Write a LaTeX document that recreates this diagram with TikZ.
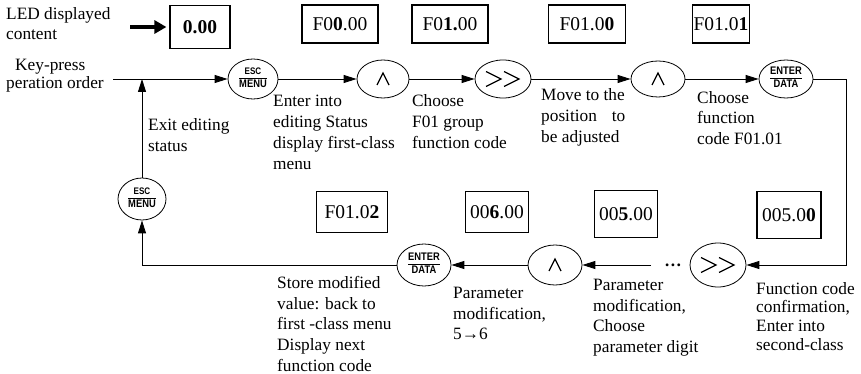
\documentclass[tikz,border=0pt]{standalone}
\usepackage{fontspec}
\usepackage{graphicx}
\setmainfont{Liberation Serif}
\setsansfont{Liberation Sans}
\usetikzlibrary{shapes.geometric,arrows.meta}
\newcommand\keytxt[3]{\scalebox{0.85}[1]{\sffamily\bfseries\setlength\tabcolsep{0pt}\setlength\arrayrulewidth{0.9pt}\renewcommand\arraystretch{0.95}\begin{tabular}{c}\fontsize{#3}{10}\selectfont #1\\\hline\fontsize{11}{11}\selectfont\rule{0pt}{9pt}#2\end{tabular}}}
\newcommand\caretmark[1]{\draw[line width=1.2pt] ([shift={(-6,6)}]#1.center) -- ([shift={(0,-6)}]#1.center) -- ([shift={(6,6)}]#1.center);}
\newcommand\ffwdmark[1]{\draw[line width=1.2pt] ([shift={(-17,-7.5)}]#1.center) -- ([shift={(-2,0)}]#1.center) -- ([shift={(-17,7.5)}]#1.center);
  \draw[line width=1.2pt] ([shift={(1,-7.5)}]#1.center) -- ([shift={(16,0)}]#1.center) -- ([shift={(1,7.5)}]#1.center);}
\begin{document}
\begin{tikzpicture}[x=1pt,y=-1pt,
  ledbox/.style={draw,line width=1.2pt,inner sep=0pt,font=\fontsize{19.5}{20}\selectfont},
  keyell/.style={draw,ellipse,line width=0.8pt,inner sep=0pt},
  arr/.style={line width=0.9pt,-{Triangle[length=13pt,width=8pt]}},
  lbl/.style={anchor=north west,inner sep=0pt,align=left,font=\fontsize{17.3}{21}\selectfont}
]
\useasboundingbox (0,0) rectangle (861,374);

% LED display boxes
\node[ledbox,minimum width=60pt,minimum height=43pt] (b0) at (200,27) {\textbf{0.00}};
\node[ledbox,minimum width=76pt,minimum height=38pt] (b1) at (340,24) {F0\textbf{0}.00};
\node[ledbox,minimum width=76pt,minimum height=38pt] (b2) at (450,24) {F0\textbf{1.}00};
\node[ledbox,minimum width=77pt,minimum height=38pt] (b3) at (587,24) {F01.0\textbf{0}};
\node[ledbox,minimum width=57pt,minimum height=38pt] (b4) at (721,24) {F01.0\textbf{1}};
\node[ledbox,minimum width=71pt,minimum height=41pt] (b5) at (352,212) {F01.0\textbf{2}};
\node[ledbox,minimum width=63pt,minimum height=41pt] (b6) at (497,212) {00\textbf{6}.00};
\node[ledbox,minimum width=63pt,minimum height=47pt] (b7) at (626,214) {00\textbf{5}.00};
\node[ledbox,minimum width=64pt,minimum height=47pt] (b8) at (789,215) {005.0\textbf{0}};

% keys
\node[keyell,minimum width=50pt,minimum height=40pt] (e1) at (253,79) {\keytxt{ESC}{MENU}{9.5}};
\node[keyell,minimum width=52pt,minimum height=38pt] (u1) at (383,79) {};
\node[keyell,minimum width=56pt,minimum height=38pt] (f1) at (503,79) {};
\node[keyell,minimum width=54pt,minimum height=36pt] (u2) at (658,79) {};
\node[keyell,minimum width=54pt,minimum height=38pt] (n1) at (786,79) {\keytxt{ENTER}{DATA}{11}};
\node[keyell,minimum width=48pt,minimum height=42pt] (e2) at (142,199) {\keytxt{ESC}{MENU}{9.5}};
\node[keyell,minimum width=54pt,minimum height=42pt] (n2) at (424,265) {\keytxt{ENTER}{DATA}{11}};
\node[keyell,minimum width=54pt,minimum height=40pt] (u3) at (555,265) {};
\node[keyell,minimum width=56pt,minimum height=44pt] (f2) at (718,265) {};
\caretmark{u1}
\caretmark{u2}
\caretmark{u3}
\ffwdmark{f1}
\ffwdmark{f2}
\node[inner xsep=13pt,inner ysep=0pt,font=\fontsize{17.3}{18}\selectfont] (dots) at (673,265) {\textbf{\dots}};

% coordinates
\coordinate (kp) at (113,79);
\coordinate (jn) at (142,79);
\coordinate (rc) at (846,265);
\coordinate (ls) at (130,27);

% connectors
\draw[line width=4pt,-{Triangle[length=12pt,width=13pt]},shorten >=3pt] (ls) -- (b0.west);
\draw[arr] (kp) -- (e1);
\draw[arr] (e1) -- (u1);
\draw[arr] (u1) -- (f1);
\draw[arr] (f1) -- (u2);
\draw[arr] (u2) -- (n1);
\draw[arr] (n1.east) -| (rc) -- (f2.east);
\draw[arr] (dots.west) -- (u3.east);
\draw[arr] (u3) -- (n2);
\draw[arr] (n2.west) -| (e2.south);
\draw[arr] (e2.north) -- (jn);

% labels
\node[lbl,font=\fontsize{17.3}{20}\selectfont] (tled) at (6,7) {LED displayed\\content};
\node[lbl,font=\fontsize{17.3}{18}\selectfont] (tkey) at (6,59) {\hspace*{9pt}Key-press\\peration order};
\node[lbl] (texit) at (148,118) {Exit editing\\status};
\node[lbl] (tenter) at (273,95) {Enter into\\editing Status\\display first-class\\menu};
\node[lbl] (tch1) at (412,94) {Choose\\F01 group\\function code};
\node[lbl] (tmove) at (541,88) {Move to the\\\makebox[84pt][s]{position to}\\be adjusted};
\node[lbl,font=\fontsize{17.3}{20.5}\selectfont] (tch2) at (697,91) {Choose\\function\\code F01.01};
\node[lbl,font=\fontsize{17.3}{20.75}\selectfont] (tstore) at (277,276) {Store modified\\value: back to\\first -class menu\\Display next\\function code};
\node[lbl,font=\fontsize{17.3}{20.5}\selectfont] (tpar1) at (453,287) {Parameter\\modification,\\5→6};
\node[lbl,font=\fontsize{17.3}{20.7}\selectfont] (tpar2) at (593,279) {Parameter\\modification,\\Choose\\parameter digit};
\node[lbl,font=\fontsize{17.3}{18.7}\selectfont] (tfun) at (756,282) {Function code\\confirmation,\\Enter into\\second-class};
\end{tikzpicture}
\end{document}
